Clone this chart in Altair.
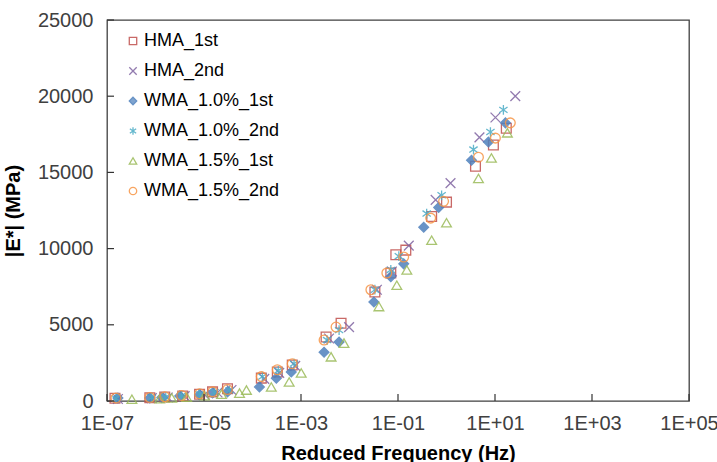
import altair as alt
import pandas as pd

series_names = ["HMA_1st", "HMA_2nd", "WMA_1.0%_1st", "WMA_1.0%_2nd", "WMA_1.5%_1st", "WMA_1.5%_2nd"]

hma1_freq = [1.46e-7, 7.64e-7, 1.55e-6, 3.64e-6, 8.1e-6, 1.5e-5, 3.05e-5, 1.52e-4, 3.25e-4, 6.6e-4,
             3.29e-3, 6.7e-3, 0.0334, 0.0711, 0.0902, 0.145, 0.494, 1.0, 3.96, 9.27, 17.1]
hma1_mod = [180, 210, 260, 330, 440, 600, 800, 1500, 1900, 2360,
            4200, 5100, 7150, 8400, 9600, 9900, 12100, 13050, 15400, 16800, 17900]

hma2_freq = [1.68e-7, 8.4e-7, 1.79e-6, 4.0e-6, 1.03e-5, 1.9e-5, 3.69e-5, 1.75e-4, 3.56e-4, 7.6e-4,
             3.79e-3, 9.8e-3, 0.0367, 0.0746, 0.167, 0.597, 1.21, 4.78, 10.2, 26.2]
hma2_mod = [130, 190, 230, 320, 420, 560, 720, 1450, 1850, 2300,
            4100, 4850, 7300, 8500, 10200, 13200, 14300, 17300, 18600, 20000]

w10a_freq = [1.68e-7, 7.64e-7, 1.35e-6, 3.16e-6, 8.1e-6, 1.5e-5, 3.05e-5, 1.39e-4, 3.1e-4, 6.3e-4,
             2.99e-3, 6.1e-3, 0.0318, 0.0711, 0.131, 0.339, 0.689, 3.28, 7.32, 16.4]
w10a_mod = [200, 200, 230, 330, 400, 520, 600, 920, 1500, 1900,
            3200, 3870, 6500, 8150, 9000, 11400, 12700, 15800, 17000, 18250]

w10b_freq = [1.53e-7, 8.4e-7, 1.63e-6, 3.47e-6, 8.1e-6, 1.65e-5, 3.36e-5, 1.6e-4, 3.4e-4, 7.2e-4,
             3.45e-3, 6.1e-3, 0.0334, 0.0711, 0.104, 0.39, 0.793, 3.6, 8.05, 14.9]
w10b_mod = [170, 220, 260, 340, 450, 580, 700, 1600, 2000, 2450,
            4000, 4650, 7300, 8600, 9500, 12300, 13500, 16500, 17650, 19100]

w15a_freq = [3.26e-7, 1.22e-6, 2.16e-6, 4.39e-6, 1.03e-5, 2.3e-5, 5.4e-5, 7.5e-5, 2.44e-4, 5.7e-4,
             1.01e-3, 4.17e-3, 7.7e-3, 0.0404, 0.0945, 0.152, 0.494, 1.0, 4.56, 8.44, 18.0]
w15a_mod = [120, 150, 200, 260, 350, 450, 520, 720, 920, 1250,
            1840, 2900, 3800, 6200, 7600, 8600, 10550, 11700, 14600, 15950, 17600]

w15b_freq = [1.53e-7, 7.64e-7, 1.55e-6, 3.47e-6, 8.1e-6, 1.5e-5, 3.05e-5, 1.52e-4, 3.25e-4, 6.6e-4,
             2.99e-3, 5.28e-3, 0.0276, 0.0589, 0.131, 0.472, 0.871, 4.56, 10.2, 20.7]
w15b_mod = [200, 230, 280, 360, 470, 600, 750, 1600, 2050, 2450,
            4000, 4850, 7300, 8400, 9450, 12000, 13100, 16000, 17250, 18250]

x_tick_values = [1e-7, 1e-5, 1e-3, 1e-1, 1e1, 1e3, 1e5]
y_tick_values = [0, 5000, 10000, 15000, 20000, 25000]

stroke_colors = ["#C0504D", "#8064A2", "#4F81BD", "#4BACC6", "#9BBB59", "#F79646"]
fill_colors = ["transparent", "transparent", "#4F81BD", "transparent", "transparent", "transparent"]
shapes = ["square", "M-1,-1L1,1M1,-1L-1,1", "diamond",
          "M0,-1L0,1M-0.85,-0.6L0.85,0.6M0.85,-0.6L-0.85,0.6", "triangle-up", "circle"]

all_freq = [hma1_freq, hma2_freq, w10a_freq, w10b_freq, w15a_freq, w15b_freq]
all_mod = [hma1_mod, hma2_mod, w10a_mod, w10b_mod, w15a_mod, w15b_mod]
rows = []
for name, fs, ms in zip(series_names, all_freq, all_mod):
    for f, m in zip(fs, ms):
        rows.append({"series": name, "freq": f, "mod": m})
df = pd.DataFrame(rows)

FONT = "Liberation Sans"
W, H = 582, 381

xscale = alt.Scale(type="log", domain=[1e-7, 1e5], nice=False)
yscale = alt.Scale(domain=[0, 25000], nice=False)

label_expr = ("'1E' + (round(log(datum.value)/LN10) < 0 ? '-' : '+') + "
              "(abs(round(log(datum.value)/LN10)) < 10 ? '0' : '') + abs(round(log(datum.value)/LN10))")

x_axis = alt.Axis(title="Reduced Frequency (Hz)", values=x_tick_values, labelExpr=label_expr,
                  tickSize=0, labelPadding=12, domain=False, grid=False,
                  labelFlush=False, labelOverlap=False, labelBound=False,
                  labelFontSize=20, labelColor="#404040", labelFont=FONT,
                  titleFont=FONT, titleFontSize=20, titleFontWeight="bold", titleColor="#000000",
                  titleBaseline="alphabetic", titleY=58)
y_axis = alt.Axis(title="|E*| (MPa)", values=y_tick_values, format="d",
                  tickSize=0, labelPadding=14, domain=False, grid=False,
                  labelFlush=False, labelOverlap=False,
                  labelFontSize=20, labelColor="#404040", labelFont=FONT,
                  titleFont=FONT, titleFontSize=20, titleFontWeight="bold", titleColor="#000000",
                  titleBaseline="alphabetic", titleX=-88)

def make_legend():
    return alt.Legend(title=None, orient="none", legendX=17, legendY=12,
                      labelFont=FONT, labelFontSize=18, labelColor="#000000",
                      symbolSize=55, symbolStrokeWidth=1.3, rowPadding=12,
                      labelOffset=2, padding=0)

points = alt.Chart(df).mark_point(strokeWidth=1.3, opacity=0.85, size=95).encode(
    x=alt.X("freq:Q", scale=xscale, axis=x_axis),
    y=alt.Y("mod:Q", scale=yscale, axis=y_axis),
    stroke=alt.Stroke("series:N", scale=alt.Scale(domain=series_names, range=stroke_colors),
                      legend=make_legend()),
    fill=alt.Fill("series:N", scale=alt.Scale(domain=series_names, range=fill_colors),
                  legend=make_legend()),
    shape=alt.Shape("series:N", scale=alt.Scale(domain=series_names, range=shapes),
                    legend=make_legend()),
)

xt = pd.DataFrame({"freq": x_tick_values})
yt = pd.DataFrame({"mod": y_tick_values})

xticks = alt.Chart(xt).mark_rule(color="#333333", strokeWidth=1.2).encode(
    x=alt.X("freq:Q", scale=xscale, axis=x_axis),
    y=alt.value(H), y2=alt.value(H - 7))
yticks = alt.Chart(yt).mark_rule(color="#333333", strokeWidth=1.2).encode(
    y=alt.Y("mod:Q", scale=yscale, axis=y_axis),
    x=alt.value(0), x2=alt.value(7))

chart = alt.layer(points, xticks, yticks).properties(
    width=W, height=H,
    background="white",
    autosize=alt.AutoSizeParams(type="none"),
    padding={"left": 107, "top": 20, "right": 28, "bottom": 61},
).configure_view(stroke="#404040", strokeWidth=1.3)

chart.save("out.html", embed_options={"renderer": "svg", "actions": False})
